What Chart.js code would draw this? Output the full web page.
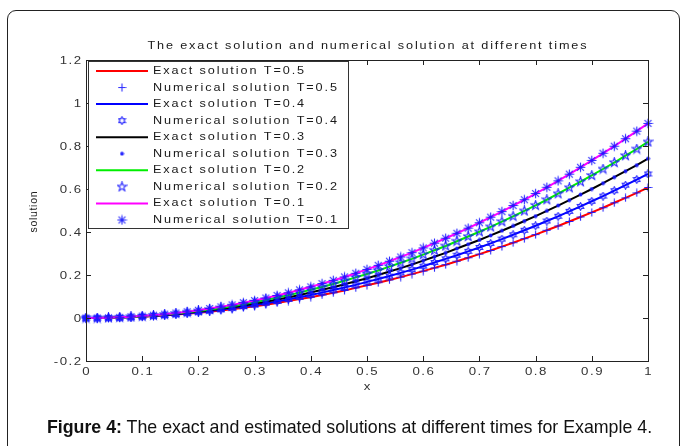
<!DOCTYPE html>
<html><head><meta charset="utf-8">
<script src="https://cdn.jsdelivr.net/npm/chart.js@4.4.0/dist/chart.umd.min.js"></script>
<style>
html,body{margin:0;padding:0;background:#fff;}
#wrap{position:relative;width:683px;height:446px;overflow:hidden;background:#fff;}
#frame{position:absolute;left:7px;top:10px;width:673px;height:470px;border:1px solid #222;border-radius:9px;box-sizing:border-box;}
canvas{position:absolute;left:0;top:0;}
#cap{position:absolute;left:8px;width:683px;top:416px;text-align:center;font-family:"Liberation Sans",Arial,sans-serif;font-size:17.8px;line-height:22px;color:#111;white-space:nowrap;}
</style></head>
<body><div id="wrap"><div id="frame"></div><canvas id="c" width="683" height="446"></canvas><div id="cap"><b>Figure 4:</b> The exact and estimated solutions at different times for Example 4.</div></div>
<script>
const xValues = [0,0.02,0.04,0.06,0.08,0.1,0.12,0.14,0.16,0.18,0.2,0.22,0.24,0.26,0.28,0.3,0.32,0.34,0.36,0.38,0.4,0.42,0.44,0.46,0.48,0.5,0.52,0.54,0.56,0.58,0.6,0.62,0.64,0.66,0.68,0.7,0.72,0.74,0.76,0.78,0.8,0.82,0.84,0.86,0.88,0.9,0.92,0.94,0.96,0.98,1];
const solT05 = [0,0.000,0.001,0.002,0.004,0.006,0.009,0.012,0.016,0.020,0.024,0.029,0.035,0.041,0.048,0.055,0.062,0.070,0.079,0.088,0.097,0.107,0.117,0.128,0.140,0.152,0.164,0.177,0.190,0.204,0.218,0.233,0.248,0.264,0.280,0.297,0.314,0.332,0.350,0.369,0.388,0.408,0.428,0.449,0.470,0.491,0.513,0.536,0.559,0.582,0.607];
const solT04 = [0,0.000,0.001,0.002,0.004,0.007,0.010,0.013,0.017,0.022,0.027,0.032,0.039,0.045,0.053,0.060,0.069,0.077,0.087,0.097,0.107,0.118,0.130,0.142,0.154,0.168,0.181,0.195,0.210,0.225,0.241,0.258,0.275,0.292,0.310,0.328,0.347,0.367,0.387,0.408,0.429,0.451,0.473,0.496,0.519,0.543,0.567,0.592,0.618,0.644,0.670];
const solT03 = [0,0.000,0.001,0.003,0.005,0.007,0.011,0.015,0.019,0.024,0.030,0.036,0.043,0.050,0.058,0.067,0.076,0.086,0.096,0.107,0.119,0.131,0.143,0.157,0.171,0.185,0.200,0.216,0.232,0.249,0.267,0.285,0.303,0.323,0.343,0.363,0.384,0.406,0.428,0.451,0.474,0.498,0.523,0.548,0.574,0.600,0.627,0.655,0.683,0.711,0.741];
const solT02 = [0,0.000,0.001,0.003,0.005,0.008,0.012,0.016,0.021,0.027,0.033,0.040,0.047,0.055,0.064,0.074,0.084,0.095,0.106,0.118,0.131,0.144,0.158,0.173,0.189,0.205,0.221,0.239,0.257,0.275,0.295,0.315,0.335,0.357,0.379,0.401,0.424,0.448,0.473,0.498,0.524,0.550,0.578,0.606,0.634,0.663,0.693,0.723,0.755,0.786,0.819];
const solT01 = [0,0.000,0.001,0.003,0.006,0.009,0.013,0.018,0.023,0.029,0.036,0.044,0.052,0.061,0.071,0.081,0.093,0.105,0.117,0.131,0.145,0.160,0.175,0.191,0.208,0.226,0.245,0.264,0.284,0.304,0.326,0.348,0.371,0.394,0.418,0.443,0.469,0.495,0.523,0.550,0.579,0.608,0.638,0.669,0.701,0.733,0.766,0.799,0.834,0.869,0.905];
const timeLabels = ['0.5','0.4','0.3','0.2','0.1'];
const xTicks = [0,0.1,0.2,0.3,0.4,0.5,0.6,0.7,0.8,0.9,1];
const xTickLabels = ['0','0.1','0.2','0.3','0.4','0.5','0.6','0.7','0.8','0.9','1'];
const yTicks = [-0.2,0,0.2,0.4,0.6,0.8,1,1.2];
const yTickLabels = ['-0.2','0','0.2','0.4','0.6','0.8','1','1.2'];
const titleText = 'The exact solution and numerical solution at different times';
const xLabelText = 'x';
const yLabelText = 'solution';

const series = [solT05, solT04, solT03, solT02, solT01];
const lineColors = ['#ff0000','#0000ff','#000000','#00ee00','#ff00ff'];
const markerKinds = ['plus','hexagram','dot','pentagram','asterisk'];
const BLUE = 'rgba(20,20,255,0.9)';

function makeMarker(kind){
  const sizes = {plus:9, hexagram:9, dot:5, pentagram:11, asterisk:11};
  const s = sizes[kind];
  const c = document.createElement('canvas'); c.width = s; c.height = s;
  const g = c.getContext('2d'); const m = s/2;
  g.strokeStyle = BLUE; g.fillStyle = BLUE; g.lineWidth = 1.1;
  g.beginPath();
  if (kind === 'plus' || kind === 'asterisk') {
    const r = kind === 'plus' ? 4 : 4.8;
    g.moveTo(m - r, m); g.lineTo(m + r, m);
    g.moveTo(m, m - r); g.lineTo(m, m + r);
    if (kind === 'asterisk') {
      const d = r*0.72;
      g.moveTo(m-d, m-d); g.lineTo(m+d, m+d);
      g.moveTo(m-d, m+d); g.lineTo(m+d, m-d);
    }
    g.stroke();
  } else if (kind === 'dot') {
    g.arc(m, m, 1.9, 0, Math.PI*2); g.fill();
  } else {
    const n = kind === 'pentagram' ? 5 : 6;
    const ro = kind === 'pentagram' ? 4.8 : 3.8;
    const ri = kind === 'pentagram' ? 1.9 : 2.2;
    for (let i = 0; i < 2*n; i++) {
      const ang = -Math.PI/2 + i*Math.PI/n;
      const r = i % 2 === 0 ? ro : ri;
      const px = m + r*Math.cos(ang), py = m + r*Math.sin(ang);
      if (i === 0) g.moveTo(px, py); else g.lineTo(px, py);
    }
    g.closePath(); g.stroke();
  }
  return c;
}
const markers = markerKinds.map(makeMarker);

const datasets = [];
series.forEach((vals, k) => {
  const pts = xValues.map((x, i) => ({x: x, y: vals[i]}));
  datasets.push({
    label: 'Exact solution T=' + timeLabels[k],
    data: pts, showLine: true, borderColor: lineColors[k], backgroundColor: lineColors[k],
    borderWidth: 2, pointRadius: 0, pointHoverRadius: 0, tension: 0, clip: false,
    order: 20 - datasets.length
  });
  datasets.push({
    label: 'Numerical solution T=' + timeLabels[k],
    data: pts, showLine: false, pointStyle: markers[k], pointRadius: 4, pointHoverRadius: 4,
    borderColor: BLUE, backgroundColor: BLUE, clip: false,
    order: 20 - datasets.length
  });
});

const FONT = '"Liberation Sans", Arial, sans-serif';
const STRETCH = 1.15;
function measure(ctx, s, size){
  ctx.save(); ctx.font = size + 'px ' + FONT; ctx.letterSpacing = '0px'; const w = ctx.measureText(s).width; ctx.restore(); return w;
}
// spacing: extra px between letters (in unscaled units); stretch: horizontal scale
function drawText(ctx, s, x, y, size, color, align, stretch, spacing){
  ctx.save();
  ctx.font = size + 'px ' + FONT;
  ctx.fillStyle = color;
  ctx.textBaseline = 'middle';
  ctx.textAlign = 'left';
  ctx.letterSpacing = '0px';
  const w0 = ctx.measureText(s).width;
  ctx.letterSpacing = spacing + 'px';
  const w = (w0 + spacing * (s.length - 1)) * stretch;
  let lx = x;
  if (align === 'center') lx = x - w/2; else if (align === 'right') lx = x - w;
  ctx.translate(lx, y);
  ctx.scale(stretch, 1);
  ctx.fillText(s, 0, 0);
  ctx.restore();
}
function spacingFor(ctx, s, size, stretch, target){
  return (target / stretch - measure(ctx, s, size)) / (s.length - 1);
}

const decor = {
  id: 'decor',
  afterDraw(chart){
    const ctx = chart.ctx, a = chart.chartArea, xs = chart.scales.x, ys = chart.scales.y;
    ctx.save();
    ctx.strokeStyle = '#222'; ctx.lineWidth = 1;
    ctx.strokeRect(Math.round(a.left)+0.5, Math.round(a.top)+0.5, Math.round(a.right-a.left), Math.round(a.bottom-a.top));
    ctx.beginPath();
    const tl = 5;
    xs.ticks.forEach(t => {
      const px = Math.round(xs.getPixelForValue(t.value)) + 0.5;
      ctx.moveTo(px, a.bottom); ctx.lineTo(px, a.bottom - tl);
      ctx.moveTo(px, a.top); ctx.lineTo(px, a.top + tl);
    });
    ys.ticks.forEach(t => {
      const py = Math.round(ys.getPixelForValue(t.value)) + 0.5;
      ctx.moveTo(a.left, py); ctx.lineTo(a.left + tl, py);
      ctx.moveTo(a.right, py); ctx.lineTo(a.right - tl, py);
    });
    ctx.stroke();
    ctx.restore();
    // tick labels
    const tickSize = 11.5;
    xs.ticks.forEach((t, i) => {
      drawText(ctx, xTickLabels[i], xs.getPixelForValue(t.value), a.bottom + 10.5, tickSize, '#333', 'center', STRETCH, 1.3);
    });
    ys.ticks.forEach((t, i) => {
      drawText(ctx, yTickLabels[i], a.left - 5, ys.getPixelForValue(t.value) + 0.5, tickSize, '#333', 'right', STRETCH, 1.3);
    });
    // title and axis labels
    const tSize = 11;
    drawText(ctx, titleText, (a.left + a.right)/2, a.top - 14, tSize, '#1a1a1a', 'center', STRETCH, spacingFor(ctx, titleText, tSize, STRETCH, 439));
    drawText(ctx, xLabelText, (a.left + a.right)/2, a.bottom + 26, 11.5, '#333', 'center', STRETCH, 0);
    ctx.save();
    ctx.translate(34, 212);
    ctx.rotate(-Math.PI/2);
    drawText(ctx, yLabelText, 0, 0, 10.5, '#222', 'center', 1, spacingFor(ctx, yLabelText, 10.5, 1, 41));
    ctx.restore();
    // legend
    const lx = a.left + 2, ly = a.top + 1, lw = 260, lh = 167;
    ctx.save();
    ctx.fillStyle = '#fff'; ctx.fillRect(lx, ly, lw, lh);
    ctx.strokeStyle = '#333'; ctx.lineWidth = 1;
    ctx.strokeRect(lx + 0.5, ly + 0.5, lw, lh);
    ctx.restore();
    const lSize = 11;
    const lSpacing = spacingFor(ctx, 'Numerical solution T=0.5', lSize, STRETCH, 184);
    datasets.forEach((d, i) => {
      const y = ly + 10 + i * 16.55;
      const k = Math.floor(i / 2);
      if (i % 2 === 0) {
        ctx.save();
        ctx.strokeStyle = lineColors[k]; ctx.lineWidth = 2;
        ctx.beginPath(); ctx.moveTo(lx + 8, y); ctx.lineTo(lx + 60, y); ctx.stroke();
        ctx.restore();
      } else {
        const mk = markers[k];
        ctx.drawImage(mk, lx + 34 - mk.width/2, y - mk.height/2);
      }
      drawText(ctx, d.label, lx + 65, y, lSize, '#1a1a1a', 'left', STRETCH, lSpacing);
    });
  }
};

new Chart(document.getElementById('c'), {
  type: 'scatter',
  data: { datasets: datasets },
  options: {
    responsive: false, animation: false, devicePixelRatio: 1,
    layout: { padding: { left: 0, right: 35, top: 60, bottom: 65 } },
    plugins: { legend: { display: false }, title: { display: false }, tooltip: { enabled: false } },
    events: [],
    scales: {
      x: {
        type: 'linear', min: 0, max: 1,
        afterBuildTicks: s => { s.ticks = xTicks.map(v => ({ value: v })); },
        afterFit: s => { s.height = 20; },
        ticks: { display: false }, grid: { display: false }, border: { display: false }
      },
      y: {
        type: 'linear', min: -0.2, max: 1.2,
        afterBuildTicks: s => { s.ticks = yTicks.map(v => ({ value: v })); },
        afterFit: s => { s.width = 86; },
        ticks: { display: false }, grid: { display: false }, border: { display: false }
      }
    }
  },
  plugins: [decor]
});
</script>
</body></html>
